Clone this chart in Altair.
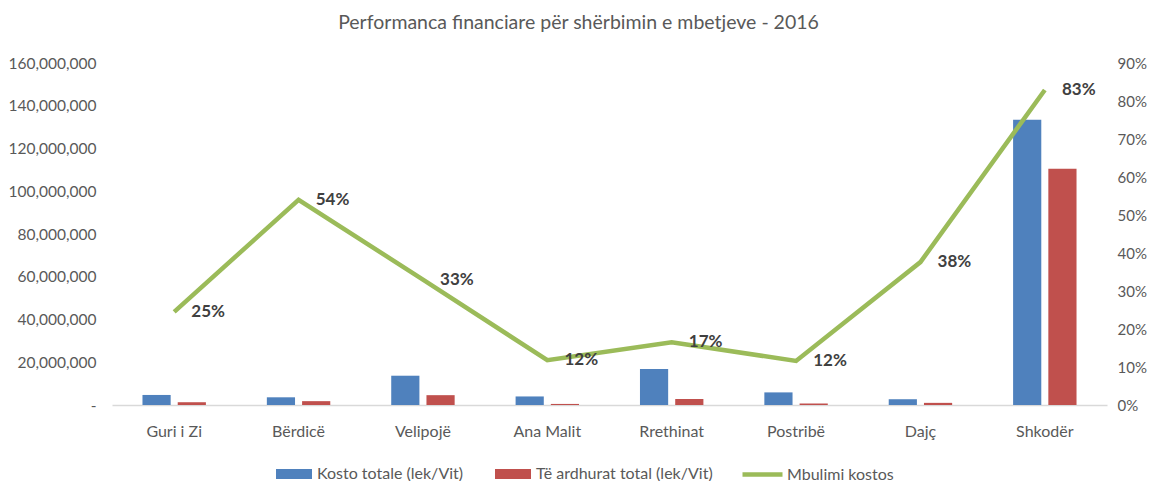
import altair as alt
import pandas as pd

categories = ["Guri i Zi", "Bërdicë", "Velipojë", "Ana Malit", "Rrethinat", "Postribë", "Dajç", "Shkodër"]
kosto = [4.7e6, 3.6e6, 13.7e6, 4.0e6, 16.8e6, 5.9e6, 2.7e6, 133.5e6]
ardhura = [1.3e6, 1.8e6, 4.6e6, 0.5e6, 2.8e6, 0.7e6, 1.0e6, 110.5e6]
mbulimi = [0.245, 0.54, 0.33, 0.118, 0.165, 0.116, 0.376, 0.829]
pct_labels = ["25%", "54%", "33%", "12%", "17%", "12%", "38%", "83%"]
series_names = ["Kosto totale (lek/Vit)", "Të ardhurat total (lek/Vit)"]
line_name = "Mbulimi kostos"
y_ticks = [0, 20e6, 40e6, 60e6, 80e6, 100e6, 120e6, 140e6, 160e6]
pct_ticks = [0, 0.1, 0.2, 0.3, 0.4, 0.5, 0.6, 0.7, 0.8, 0.9]

rows = []
for c, k, a in zip(categories, kosto, ardhura):
    rows.append({"cat": c, "series": series_names[0], "value": k})
    rows.append({"cat": c, "series": series_names[1], "value": a})
bar_df = pd.DataFrame(rows)
line_df = pd.DataFrame({"cat": categories, "pct": mbulimi, "label": pct_labels, "name": line_name})

FONT = "Lato"
GRAY = "#595959"

xenc = alt.X("cat:N", sort=categories,
             scale=alt.Scale(paddingInner=0.49, paddingOuter=0.245),
             axis=alt.Axis(title=None, labelAngle=0, domainColor="#d9d9d9", domainWidth=1.5,
                           ticks=False, labelPadding=18, labelFontSize=16, labelColor=GRAY,
                           labelFont=FONT))

bars = alt.Chart(bar_df).mark_bar().encode(
    x=xenc,
    xOffset=alt.XOffset("series:N", sort=series_names,
                        scale=alt.Scale(paddingInner=0.2, paddingOuter=0)),
    y=alt.Y("value:Q", scale=alt.Scale(domain=[0, 160e6]),
            axis=alt.Axis(title=None, values=y_ticks, grid=False, domain=False, ticks=False,
                          labelExpr="datum.value == 0 ? '-' : format(datum.value, ',')",
                          labelPadding=16, labelFontSize=15.5, labelColor=GRAY, labelFont=FONT)),
    fill=alt.Fill("series:N", sort=series_names,
                  scale=alt.Scale(domain=series_names, range=["#4F81BD", "#C0504D"]),
                  legend=alt.Legend(title=None, orient="none", direction="horizontal",
                                    legendX=164, legendY=393,
                                    symbolType="M-1,-0.28H1V0.28H-1Z", symbolSize=1296,
                                    symbolStrokeWidth=0, labelFontSize=16, labelColor=GRAY,
                                    labelFont=FONT, columnPadding=31, labelOffset=5,
                                    labelLimit=400)),
)

line = alt.Chart(line_df).mark_line(strokeWidth=4.5).encode(
    x=alt.X("cat:N", sort=categories),
    y=alt.Y("pct:Q", scale=alt.Scale(domain=[0, 0.9]),
            axis=alt.Axis(title=None, orient="right", values=pct_ticks, format=".0%", grid=False,
                          domain=False, ticks=False, labelPadding=10, labelFontSize=15,
                          labelColor=GRAY, labelFont=FONT)),
    stroke=alt.Stroke("name:N", scale=alt.Scale(domain=[line_name], range=["#9BBB59"]),
                      legend=alt.Legend(title=None, orient="none", legendX=628, legendY=389,
                                        symbolType="stroke", symbolSize=1600,
                                        symbolStrokeWidth=4.5, labelFontSize=16,
                                        labelColor=GRAY, labelFont=FONT, labelOffset=2,
                                        labelLimit=400)),
)

text = alt.Chart(line_df).mark_text(align="center", dx=34, fontSize=17, fontWeight="bold",
                                    color="#404040", font=FONT).encode(
    x=alt.X("cat:N", sort=categories),
    y=alt.Y("pct:Q", scale=alt.Scale(domain=[0, 0.9]), axis=None),
    text="label:N",
)

chart = alt.layer(bars, line, text).resolve_scale(y="independent").properties(
    width=995, height=342,
    autosize=alt.AutoSizeParams(type="none"),
    padding={"left": 104, "top": 55, "right": 41, "bottom": 78},
    title=alt.TitleParams("Performanca financiare për shërbimin e mbetjeve - 2016",
                          fontSize=19.5, font=FONT, fontWeight="normal", color=GRAY,
                          offset=23, dx=-31, anchor="middle"),
).configure_view(stroke=None)

chart.save("out.html", embed_options={"renderer": "svg", "actions": False})
